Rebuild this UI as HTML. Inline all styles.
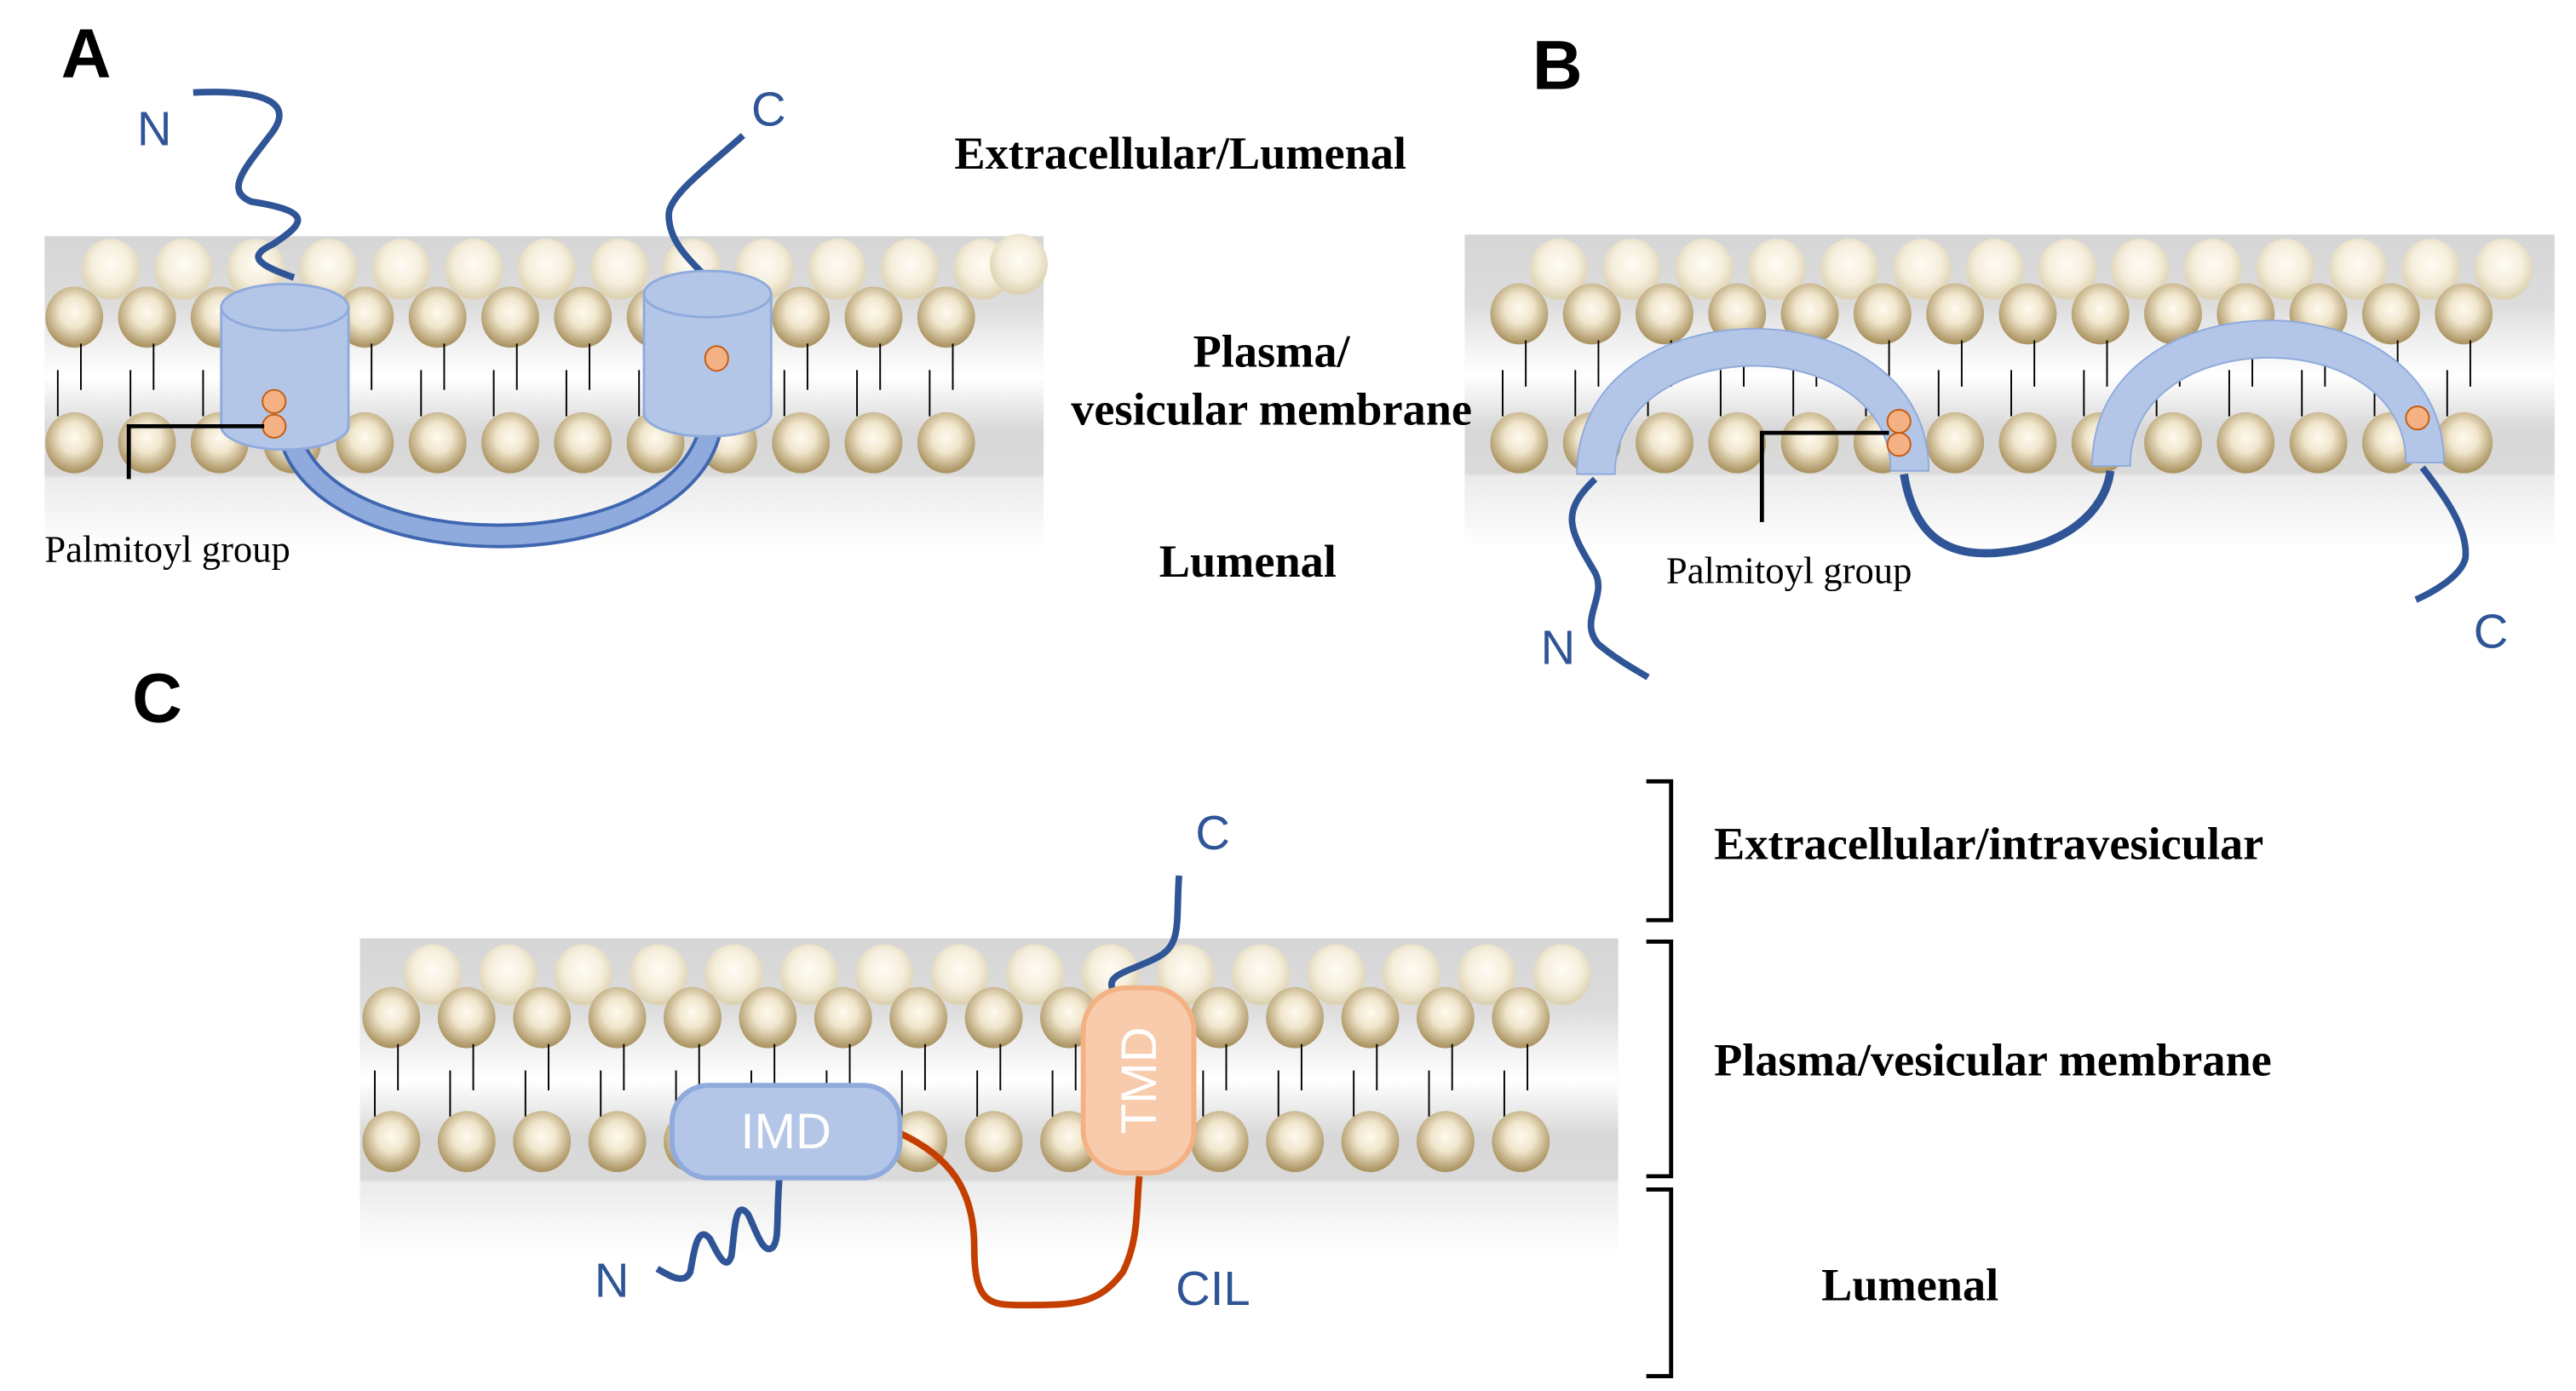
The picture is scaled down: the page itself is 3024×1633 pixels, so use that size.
<!DOCTYPE html>
<html><head><meta charset="utf-8"><style>
html,body{margin:0;padding:0;background:#fff;}
svg{display:block;}
.lab{font-family:"Liberation Sans",sans-serif;fill:#2f5597;font-size:29px;}
.big{font-family:"Liberation Sans",sans-serif;font-weight:bold;font-size:42px;fill:#000;}
.ser{font-family:"Liberation Serif",serif;font-weight:bold;font-size:28px;fill:#000;}
.pal{font-family:"Liberation Serif",serif;font-size:23px;fill:#000;}
</style></head><body>
<svg id="s" width="3024" height="1633" viewBox="0 0 1560 842" preserveAspectRatio="none" xmlns="http://www.w3.org/2000/svg">
<defs>
<linearGradient id="mem" x1="0" y1="0" x2="0" y2="1">
<stop offset="0" stop-color="#d6d6d6"/><stop offset="0.22" stop-color="#dcdcdc"/>
<stop offset="0.34" stop-color="#f0f0f0"/><stop offset="0.45" stop-color="#ffffff"/>
<stop offset="0.56" stop-color="#e6e6e6"/><stop offset="0.62" stop-color="#d8d8d8"/>
<stop offset="0.76" stop-color="#dadada"/><stop offset="0.77" stop-color="#ebebeb"/>
<stop offset="1" stop-color="#ffffff"/></linearGradient>
<radialGradient id="hd" cx="0.5" cy="0.42" r="0.55"><stop offset="0" stop-color="#fffaf0"/><stop offset="0.45" stop-color="#f0e6cc"/><stop offset="1" stop-color="#ad9665"/></radialGradient>
<radialGradient id="hb" cx="0.5" cy="0.42" r="0.55"><stop offset="0" stop-color="#fffcf4"/><stop offset="0.6" stop-color="#f5eedc"/><stop offset="1" stop-color="#ddd2b2"/></radialGradient>
</defs>
<rect x="27" y="143" width="605" height="190" fill="url(#mem)"/>
<rect x="887" y="142" width="660" height="190" fill="url(#mem)"/>
<rect x="218" y="568" width="762" height="192" fill="url(#mem)"/>
<g id="heads"></g>
<!-- Panel A -->
<text class="big" x="37" y="47">A</text>
<path d="M117,56 C160,54 178,62 165,80 C150,100 135,115 152,122 C190,128 185,135 165,148 C150,155 155,160 178,168" fill="none" stroke="#2f5597" stroke-width="4"/>
<path d="M450,82 C430,100 405,118 405,130 C405,145 415,155 428,168" fill="none" stroke="#2f5597" stroke-width="4"/>
<text class="lab" x="83" y="88">N</text>
<text class="lab" x="455" y="76">C</text>
<path d="M176,265 C200,345 410,345 430,260" fill="none" stroke="#3f66b0" stroke-width="15"/>
<path d="M176,265 C200,345 410,345 430,260" fill="none" stroke="#8faadc" stroke-width="11"/>
<path d="M134,186 L134,258 A38,14 0 0 0 211,258 L211,186" fill="#b3c6e7" stroke="#8faadc" stroke-width="1.5"/>
<ellipse cx="172.5" cy="186" rx="38.5" ry="14" fill="#b3c6e7" stroke="#8faadc" stroke-width="1.5"/>
<path d="M390,178 L390,250 A38,14 0 0 0 467,250 L467,178" fill="#b3c6e7" stroke="#8faadc" stroke-width="1.5"/>
<ellipse cx="428.5" cy="178" rx="38.5" ry="14" fill="#b3c6e7" stroke="#8faadc" stroke-width="1.5"/>
<ellipse cx="166" cy="243" rx="7" ry="7" fill="#f4b183" stroke="#c55a11"/>
<ellipse cx="166" cy="258" rx="7" ry="7" fill="#f4b183" stroke="#c55a11"/>
<ellipse cx="434" cy="217" rx="7" ry="7.5" fill="#f4b183" stroke="#c55a11"/>
<path d="M160,258 L78,258 L78,290" fill="none" stroke="#000" stroke-width="2.5"/>
<text class="pal" x="27" y="340">Palmitoyl group</text>
<text class="ser" x="578" y="102">Extracellular/Lumenal</text>
<text class="ser" x="770" y="222" text-anchor="middle">Plasma/</text>
<text class="ser" x="770" y="257" text-anchor="middle">vesicular membrane</text>
<text class="ser" x="702" y="349">Lumenal</text>
<!-- Panel B -->
<text class="big" x="928" y="54">B</text>
<path d="M1153,287 C1160,330 1185,338 1215,334 C1250,330 1275,310 1278,285" fill="none" stroke="#2f5597" stroke-width="5"/>
<path d="M966,290 C945,310 950,320 965,345 C975,360 955,375 968,390 C980,400 990,405 998,410" fill="none" stroke="#2f5597" stroke-width="4"/>
<path d="M1467,283 C1480,300 1495,320 1493,338 C1490,350 1470,360 1463,363" fill="none" stroke="#2f5597" stroke-width="4"/>
<path d="M955,287 C955,170 1168,170 1168,285 L1145,285 C1145,200 978,200 978,287 Z" fill="#b3c6e7" stroke="#8faadc" stroke-width="1"/>
<path d="M1267,282 C1267,165 1480,165 1480,280 L1457,280 C1457,195 1290,195 1290,282 Z" fill="#b3c6e7" stroke="#8faadc" stroke-width="1"/>
<ellipse cx="1150" cy="255" rx="7" ry="7" fill="#f4b183" stroke="#c55a11"/>
<ellipse cx="1150" cy="269" rx="7" ry="7" fill="#f4b183" stroke="#c55a11"/>
<ellipse cx="1464" cy="253" rx="7" ry="7" fill="#f4b183" stroke="#c55a11"/>
<path d="M1144,262 L1067,262 L1067,316" fill="none" stroke="#000" stroke-width="2.5"/>
<text class="pal" x="1009" y="353">Palmitoyl group</text>
<text class="lab" x="933" y="402">N</text>
<text class="lab" x="1498" y="392">C</text>
<!-- Panel C -->
<text class="big" x="80" y="437">C</text>
<path d="M714,530 C712,560 716,572 700,580 C680,590 665,590 678,605" fill="none" stroke="#2f5597" stroke-width="4"/>
<path d="M472,712 C470,740 472,750 468,755 C462,760 458,745 453,735 C445,725 445,745 443,760 C440,770 435,760 430,750 C422,740 420,760 418,770 C414,778 405,772 398,768" fill="none" stroke="#2f5597" stroke-width="4"/>
<path d="M545,686 C575,700 590,720 590,755 C590,790 600,790 620,790 C650,790 665,790 680,770 C690,750 688,730 690,712" fill="none" stroke="#c43e00" stroke-width="4"/>
<rect x="407" y="657" width="138" height="56" rx="22" fill="#b3c6e7" stroke="#8faadc" stroke-width="3"/>
<text x="476" y="695" text-anchor="middle" font-family="Liberation Sans,sans-serif" font-size="30" fill="#fff">IMD</text>
<rect x="656" y="598" width="67" height="112" rx="26" fill="#f8cbad" stroke="#f4b183" stroke-width="3"/>
<text transform="translate(700,654) rotate(-90)" text-anchor="middle" font-family="Liberation Sans,sans-serif" font-size="30" fill="#fff">TMD</text>
<text class="lab" x="724" y="514">C</text>
<text class="lab" x="360" y="785">N</text>
<text class="lab" x="712" y="790">CIL</text>
<path d="M997,473 L1012,473 L1012,557 L997,557 M997,570 L1012,570 L1012,712 L997,712 M997,720 L1012,720 L1012,833 L997,833" fill="none" stroke="#000" stroke-width="2.5"/>
<text class="ser" x="1038" y="520">Extracellular/intravesicular</text>
<text class="ser" x="1038" y="651">Plasma/vesicular membrane</text>
<text class="ser" x="1103" y="787">Lumenal</text>
</svg>
<script>
(function(){
var g=document.getElementById('heads'),h='';
function row(x0,dx,n,y,id){for(var i=0;i<n;i++){h+='<ellipse cx="'+(x0+i*dx)+'" cy="'+y+'" rx="17.5" ry="18.5" fill="url(#'+id+')"/>';}}
function tails(x0,dx,n,y1,y2){for(var i=0;i<n;i++){var x=x0+i*dx;h+='<line x1="'+(x+4)+'" y1="'+y1+'" x2="'+(x+4)+'" y2="'+(y1+28)+'" stroke="#000" stroke-width="1"/><line x1="'+(x-10)+'" y1="'+(y2-28)+'" x2="'+(x-10)+'" y2="'+y2+'" stroke="#000" stroke-width="1"/>';}}
row(67,44,13,163,'hb');row(617,0,1,160,'hb');row(45,44,13,192,'hd');tails(45,44,13,208,252);row(45,44,13,268,'hd');
row(944,44,14,163,'hb');row(920,44,14,190,'hd');tails(920,44,14,206,252);row(920,44,14,268,'hd');
row(262,45.6,16,590,'hb');row(237,45.6,16,616,'hd');tails(237,45.6,16,632,676);row(237,45.6,16,691,'hd');
g.innerHTML=h;
})();
</script>
</body></html>
